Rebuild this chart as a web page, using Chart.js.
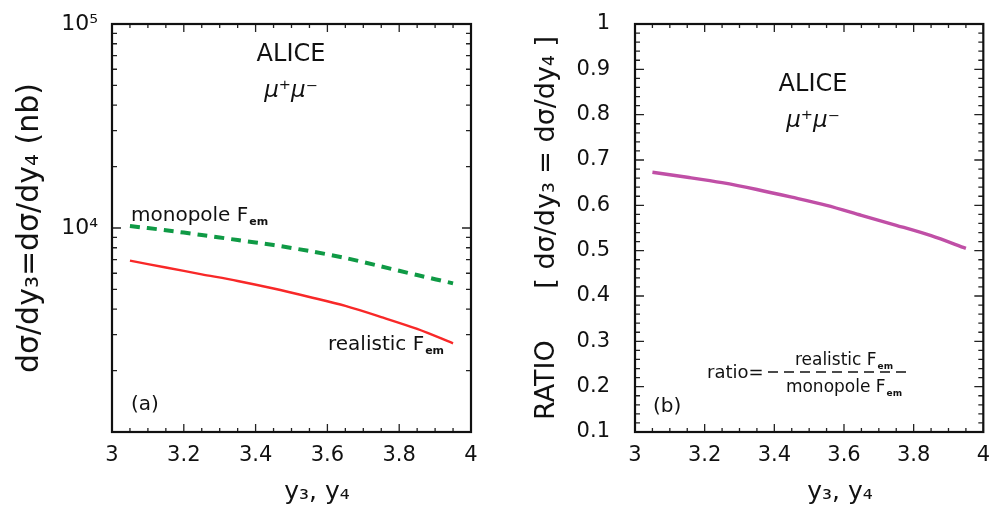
<!DOCTYPE html>
<html>
<head>
<meta charset="utf-8">
<script src="https://cdn.jsdelivr.net/npm/chart.js@4/dist/chart.umd.min.js"></script>
<style>
  body { margin: 0; background: #fff; }
  #wrap { position: relative; width: 1001px; height: 508px; }
  #left { position: absolute; left: 0; top: 0; }
  #right { position: absolute; left: 500px; top: 0; }
</style>
</head>
<body>
<div id="wrap">
  <canvas id="left" width="500" height="508"></canvas>
  <canvas id="right" width="501" height="508"></canvas>
</div>
<script>
// rapidity values where the curves are given
var rapidity = [3.05, 3.15, 3.25, 3.35, 3.45, 3.55, 3.65, 3.75, 3.85, 3.95];
// dsigma/dy (nb)
var monopole = [10230, 9750, 9240, 8730, 8250, 7710, 7130, 6480, 5880, 5355];
var realistic = [6914, 6400, 5929, 5500, 5050, 4590, 4150, 3660, 3200, 2721];
// realistic / monopole
var ratio = [0.673, 0.662, 0.650, 0.635, 0.618, 0.600, 0.578, 0.556, 0.533, 0.505];

var xTickLabels = [3, 3.2, 3.4, 3.6, 3.8, 4];
var logTickLabels = [10000, 100000];

var FONT = "'DejaVu Sans', sans-serif";
Chart.defaults.font.family = FONT;
Chart.defaults.color = '#111';

function pts(ys) {
  return rapidity.map(function (x, i) { return { x: x, y: ys[i] }; });
}

function sup(n) {
  var map = { '0': '⁰', '1': '¹', '2': '²', '3': '³', '4': '⁴', '5': '⁵', '6': '⁶', '7': '⁷', '8': '⁸', '9': '⁹' };
  return String(n).split('').map(function (c) { return map[c]; }).join('');
}

// closed frame with inward ticks on all four sides
var frame = {
  id: 'frame',
  afterDraw: function (chart) {
    var ctx = chart.ctx, a = chart.chartArea;
    var xs = chart.scales.x, ys = chart.scales.y;
    var o = chart.options.plugins.frame;
    ctx.save();
    ctx.strokeStyle = '#222';
    ctx.lineWidth = 1.3;
    ctx.beginPath();
    var v, p, len, i;
    for (i = 0; i <= 20; i++) {
      v = 3 + i * 0.05;
      p = xs.getPixelForValue(v);
      len = (i % 4 == 0) ? 8 : 4;
      ctx.moveTo(p, a.bottom); ctx.lineTo(p, a.bottom - len);
      ctx.moveTo(p, a.top); ctx.lineTo(p, a.top + len);
    }
    var yt = [];
    if (o.log) {
      for (var d = 1000; d < 100000; d *= 10) {
        for (var m = 1; m < 10; m++) yt.push({ v: d * m, major: m == 1 });
      }
    } else {
      for (i = 5; i <= 50; i++) yt.push({ v: i * 0.02, major: i % 5 == 0 });
    }
    yt.forEach(function (t) {
      p = ys.getPixelForValue(t.v);
      len = t.major ? 9 : 5;
      ctx.moveTo(a.left, p); ctx.lineTo(a.left + len, p);
      ctx.moveTo(a.right, p); ctx.lineTo(a.right - len, p);
    });
    ctx.stroke();
    ctx.lineWidth = 2.2;
    ctx.strokeStyle = '#111';
    ctx.strokeRect(a.left, a.top, a.right - a.left, a.bottom - a.top);
    ctx.restore();
  }
};

function fem(ctx, text, x, y, size, align) {
  // text ending in F with subscript "em"
  ctx.font = size + 'px ' + FONT;
  var sub = Math.round(size * 0.55);
  var w1 = ctx.measureText(text).width;
  ctx.font = 'bold ' + sub + 'px ' + FONT;
  var w2 = ctx.measureText('em').width + 1;
  var x0 = align == 'center' ? x - (w1 + w2) / 2 : x;
  ctx.textAlign = 'left';
  ctx.font = size + 'px ' + FONT;
  ctx.fillText(text, x0, y);
  ctx.font = 'bold ' + sub + 'px ' + FONT;
  ctx.fillText('em', x0 + w1 + 1, y + size * 0.22);
}

var notes = {
  id: 'notes',
  afterDraw: function (chart) {
    var ctx = chart.ctx;
    var n = chart.options.plugins.notes;
    ctx.save();
    ctx.fillStyle = '#111';
    ctx.textBaseline = 'alphabetic';
    ctx.textAlign = 'center';
    ctx.font = '24px ' + FONT;
    ctx.fillText('ALICE', n.alice[0], n.alice[1]);
    ctx.font = 'italic 23px ' + FONT;
    ctx.fillText('μ⁺μ⁻', n.alice[0], n.alice[1] + 36);
    ctx.font = '25px ' + FONT;
    ctx.fillText('y₃, y₄', n.xtitle[0], n.xtitle[1]);
    ctx.textAlign = 'left';
    ctx.font = '20px ' + FONT;
    ctx.fillText(n.tag[2], n.tag[0], n.tag[1]);
    if (n.side == 'left') {
      fem(ctx, 'monopole F', 131, 221, 20);
      fem(ctx, 'realistic F', 328, 350, 20);
    } else {
      ctx.font = '18px ' + FONT;
      ctx.fillText('ratio=', 207, 378);
      ctx.strokeStyle = '#111';
      ctx.lineWidth = 1.6;
      ctx.setLineDash([10, 6]);
      ctx.beginPath();
      ctx.moveTo(268, 372); ctx.lineTo(406, 372);
      ctx.stroke();
      fem(ctx, 'realistic F', 344, 365, 17, 'center');
      fem(ctx, 'monopole F', 344, 392, 17, 'center');
    }
    ctx.restore();
  }
};

function xAxis() {
  return {
    type: 'linear',
    min: 3,
    max: 4,
    grid: { display: false, drawTicks: false },
    border: { display: false },
    afterBuildTicks: function (s) { s.ticks = xTickLabels.map(function (v) { return { value: v }; }); },
    afterFit: function (s) { s.height = 76; },
    ticks: {
      padding: 11,
      maxRotation: 0,
      font: { size: 21 },
      callback: function (v) { return String(Number(v.toFixed(1))); }
    }
  };
}

new Chart(document.getElementById('left'), {
  type: 'line',
  data: {
    datasets: [{
      data: pts(monopole),
      borderColor: '#0f9a45',
      borderWidth: 4,
      borderDash: [10, 7],
      pointRadius: 0,
      tension: 0.3
    }, {
      data: pts(realistic),
      borderColor: '#f82828',
      borderWidth: 2.4,
      pointRadius: 0,
      tension: 0.3
    }]
  },
  options: {
    responsive: false,
    animation: false,
    layout: { padding: { top: 24, right: 29, left: 0, bottom: 0 } },
    scales: {
      x: xAxis(),
      y: {
        type: 'logarithmic',
        min: 1000,
        max: 100000,
        grid: { display: false, drawTicks: false },
        border: { display: false },
        afterBuildTicks: function (s) { s.ticks = logTickLabels.map(function (v) { return { value: v }; }); },
        afterFit: function (s) { s.width = 112; s.paddingTop = 0; s.paddingBottom = 0; },
        ticks: {
          padding: 14,
          font: { size: 22 },
          callback: function (v) { return '10' + sup(Math.round(Math.log10(v))); }
        },
        title: {
          display: true,
          text: 'dσ/dy₃=dσ/dy₄ (nb)',
          font: { size: 30 },
          padding: { top: 12, bottom: 0 }
        }
      }
    },
    plugins: {
      legend: { display: false },
      tooltip: { enabled: false },
      frame: { log: true },
      notes: { side: 'left', alice: [291, 61], xtitle: [317, 499], tag: [131, 410, '(a)'] }
    }
  },
  plugins: [frame, notes]
});

new Chart(document.getElementById('right'), {
  type: 'line',
  data: {
    datasets: [{
      data: pts(ratio),
      borderColor: '#c04fa6',
      borderWidth: 3.4,
      pointRadius: 0,
      tension: 0.3
    }]
  },
  options: {
    responsive: false,
    animation: false,
    layout: { padding: { top: 24, right: 8, left: 0, bottom: 0 } },
    scales: {
      x: xAxis(),
      y: {
        type: 'linear',
        min: 0.1,
        max: 1,
        grid: { display: false, drawTicks: false },
        border: { display: false },
        afterFit: function (s) { s.width = 135; s.paddingTop = 0; s.paddingBottom = 0; },
        ticks: {
          stepSize: 0.1,
          padding: 25,
          font: { size: 21 },
          callback: function (v) { return String(Number(v.toFixed(1))); }
        },
        title: {
          display: true,
          text: 'RATIO      [ dσ/dy₃ = dσ/dy₄ ]',
          font: { size: 27 },
          padding: { top: 31, bottom: 0 }
        }
      }
    },
    plugins: {
      legend: { display: false },
      tooltip: { enabled: false },
      frame: { log: false },
      notes: { side: 'right', alice: [313, 91], xtitle: [340, 499], tag: [153, 412, '(b)'] }
    }
  },
  plugins: [frame, notes]
});
</script>
</body>
</html>
